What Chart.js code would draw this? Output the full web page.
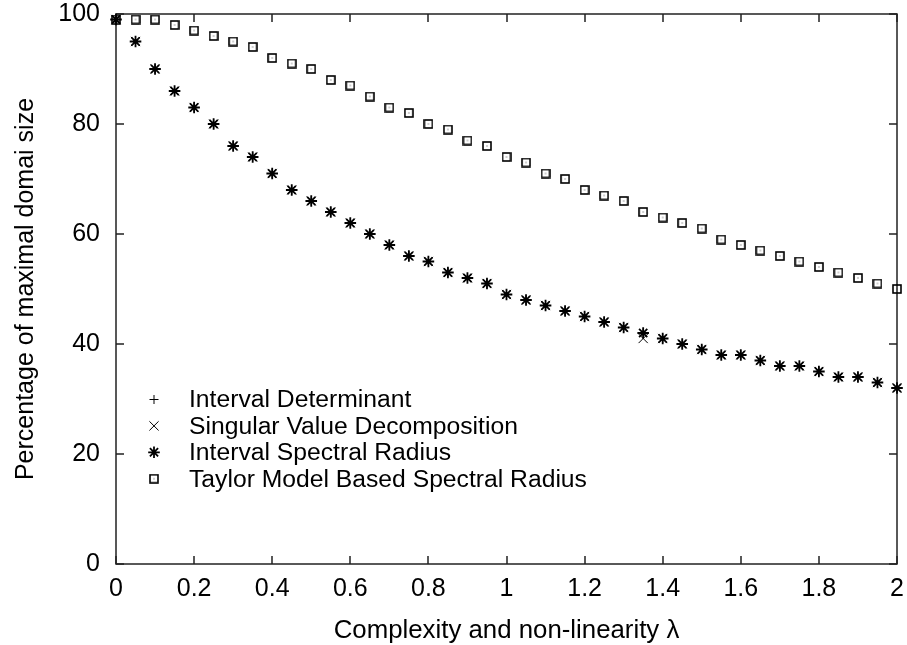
<!DOCTYPE html>
<html><head><meta charset="utf-8">
<script src="https://cdn.jsdelivr.net/npm/chart.js@4/dist/chart.umd.min.js"></script>
<style>html,body{margin:0;padding:0;background:#fff}canvas{display:block}</style>
</head><body>
<canvas id="c" width="907" height="645"></canvas>
<script>
const lambdaValues = [0, 0.05, 0.1, 0.15, 0.2, 0.25, 0.3, 0.35, 0.4, 0.45, 0.5, 0.55, 0.6, 0.65, 0.7, 0.75, 0.8, 0.85, 0.9, 0.95, 1.0, 1.05, 1.1, 1.15, 1.2, 1.25, 1.3, 1.35, 1.4, 1.45, 1.5, 1.55, 1.6, 1.65, 1.7, 1.75, 1.8, 1.85, 1.9, 1.95, 2.0];
const intervalDeterminant = [99, 95, 90, 86, 83, 80, 76, 74, 71, 68, 66, 64, 62, 60, 58, 56, 55, 53, 52, 51, 49, 48, 47, 46, 45, 44, 43, 42, 41, 40, 39, 38, 38, 37, 36, 36, 35, 34, 34, 33, 32];
const singularValueDecomposition = [99, 95, 90, 86, 83, 80, 76, 74, 71, 68, 66, 64, 62, 60, 58, 56, 55, 53, 52, 51, 49, 48, 47, 46, 45, 44, 43, 41, 41, 40, 39, 38, 38, 37, 36, 36, 35, 34, 34, 33, 32];
const intervalSpectralRadius = [99, 95, 90, 86, 83, 80, 76, 74, 71, 68, 66, 64, 62, 60, 58, 56, 55, 53, 52, 51, 49, 48, 47, 46, 45, 44, 43, 42, 41, 40, 39, 38, 38, 37, 36, 36, 35, 34, 34, 33, 32];
const taylorModelSpectralRadius = [99, 99, 99, 98, 97, 96, 95, 94, 92, 91, 90, 88, 87, 85, 83, 82, 80, 79, 77, 76, 74, 73, 71, 70, 68, 67, 66, 64, 63, 62, 61, 59, 58, 57, 56, 55, 54, 53, 52, 51, 50];
const seriesNames = ['Interval Determinant', 'Singular Value Decomposition', 'Interval Spectral Radius', 'Taylor Model Based Spectral Radius'];
const xTicks = [0, 0.2, 0.4, 0.6, 0.8, 1, 1.2, 1.4, 1.6, 1.8, 2];
const yTicks = [0, 20, 40, 60, 80, 100];
const xTitle = 'Complexity and non-linearity \u03bb';
const yTitle = 'Percentage of maximal domai size';

const FONT = '"Liberation Sans", Arial, Helvetica, sans-serif';

function squareDot() {
  const c = document.createElement('canvas');
  c.width = 10; c.height = 10;
  const g = c.getContext('2d');
  g.strokeStyle = '#000';
  g.lineWidth = 1.6;
  g.strokeRect(1, 1, 8, 8);
  g.fillStyle = '#444';
  g.fillRect(4.5, 4.5, 1, 1);
  return c;
}

function pts(arr) { return lambdaValues.map((x, i) => ({ x: x, y: arr[i] })); }

const styles = [
  { pointStyle: 'cross', radius: 4.5, borderWidth: 1 },
  { pointStyle: 'crossRot', radius: 6.5, borderWidth: 1 },
  { pointStyle: 'star', radius: 5.8, borderWidth: 1.8 },
  { pointStyle: squareDot(), radius: 5, borderWidth: 1 }
];
const seriesData = [intervalDeterminant, singularValueDecomposition, intervalSpectralRadius, taylorModelSpectralRadius];

const datasets = seriesData.map((arr, i) => ({
  label: seriesNames[i],
  data: pts(arr),
  showLine: false,
  pointStyle: styles[i].pointStyle,
  pointRadius: styles[i].radius,
  pointBorderWidth: styles[i].borderWidth,
  pointBorderColor: '#000',
  pointBackgroundColor: '#000',
  clip: false
}));

const framePlugin = {
  id: 'frame',
  beforeDatasetsDraw(chart) {
    const { ctx, chartArea: a, scales: { x, y } } = chart;
    ctx.save();
    ctx.strokeStyle = '#222';
    ctx.lineWidth = 1.5;
    ctx.strokeRect(a.left, a.top, a.right - a.left, a.bottom - a.top);
    const L = 8;
    ctx.beginPath();
    xTicks.forEach(v => {
      const p = Math.round(x.getPixelForValue(v));
      ctx.moveTo(p, a.bottom); ctx.lineTo(p, a.bottom - L);
      ctx.moveTo(p, a.top); ctx.lineTo(p, a.top + L);
    });
    yTicks.forEach(v => {
      const p = Math.round(y.getPixelForValue(v));
      ctx.moveTo(a.left, p); ctx.lineTo(a.left + L, p);
      ctx.moveTo(a.right, p); ctx.lineTo(a.right - L, p);
    });
    ctx.stroke();
    ctx.restore();
  }
};

const legendPlugin = {
  id: 'insideLegend',
  afterDatasetsDraw(chart) {
    const ctx = chart.ctx;
    const x0 = 154, textX = 189, y0 = 399.5, dy = 26.4;
    ctx.save();
    ctx.font = '24.7px ' + FONT;
    ctx.textBaseline = 'middle';
    ctx.textAlign = 'left';
    seriesNames.forEach((name, i) => {
      const yy = y0 + i * dy;
      ctx.strokeStyle = '#000';
      ctx.fillStyle = '#000';
      ctx.lineWidth = styles[i].borderWidth;
      Chart.helpers.drawPoint(ctx, { pointStyle: styles[i].pointStyle, radius: styles[i].radius, rotation: 0, borderWidth: styles[i].borderWidth }, x0, yy);
      ctx.fillStyle = '#000';
      ctx.fillText(name, textX, yy + 1);
    });
    ctx.restore();
  }
};

new Chart(document.getElementById('c'), {
  type: 'scatter',
  data: { datasets: datasets },
  options: {
    responsive: false,
    animation: false,
    layout: { padding: { top: 14, right: 10, left: 0, bottom: 0 } },
    plugins: { legend: { display: false }, tooltip: { enabled: false } },
    scales: {
      x: {
        type: 'linear', min: 0, max: 2,
        afterBuildTicks: s => { s.ticks = xTicks.map(v => ({ value: v })); },
        afterFit: s => { s.height = 81; s.paddingLeft = 0; s.paddingRight = 0; },
        ticks: { font: { family: FONT, size: 25 }, color: '#000', padding: 10, maxRotation: 0, autoSkip: false, callback: v => String(v) },
        grid: { display: false, drawTicks: false },
        border: { display: false },
        title: { display: true, text: xTitle, color: '#000', font: { family: FONT, size: 25.8, lineHeight: 1 }, padding: { top: 0, bottom: 1.5 } }
      },
      y: {
        type: 'linear', min: 0, max: 100,
        afterBuildTicks: s => { s.ticks = yTicks.map(v => ({ value: v })); },
        afterFit: s => { s.width = 116; s.paddingTop = 0; s.paddingBottom = 0; },
        ticks: { font: { family: FONT, size: 25 }, color: '#000', padding: 16, autoSkip: false, callback: v => String(v) },
        grid: { display: false, drawTicks: false },
        border: { display: false },
        title: { display: true, text: yTitle, color: '#000', font: { family: FONT, size: 25, lineHeight: 1 }, padding: { top: 13.5, bottom: 0 } }
      }
    }
  },
  plugins: [framePlugin, legendPlugin]
});
</script>
</body></html>
